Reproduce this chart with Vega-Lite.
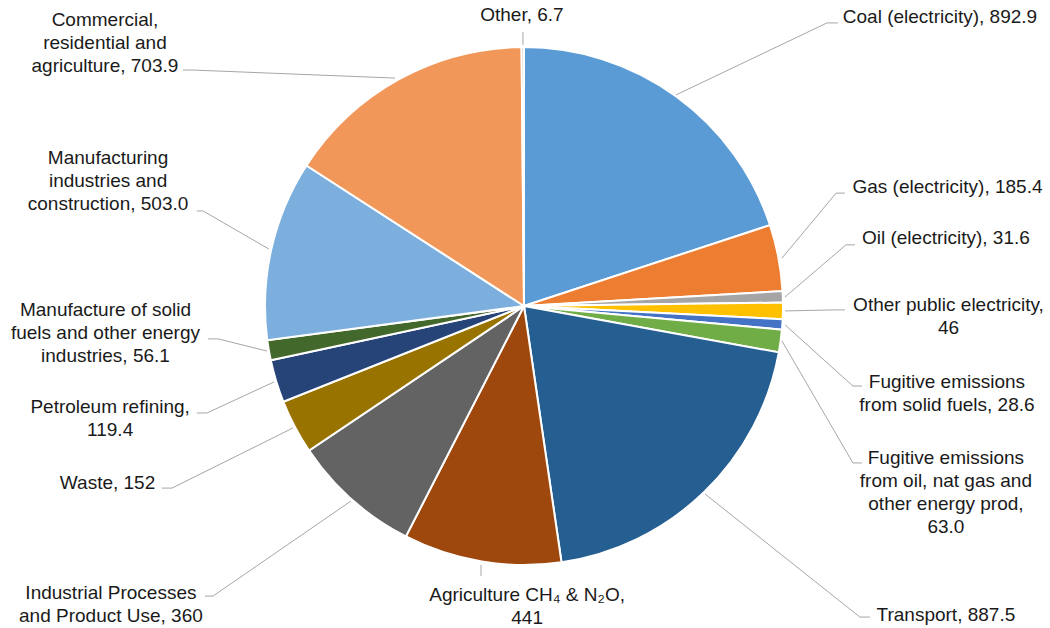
{
  "$schema": "https://vega.github.io/schema/vega-lite/v6.json",
  "width": 1050,
  "height": 628,
  "autosize": {"type": "none"},
  "padding": 0,
  "background": "white",
  "config": {"view": {"stroke": null}},
  "data": {
    "values": [
      {"name": "Coal (electricity)", "value": 892.9, "ord": 1, "label": "Coal (electricity), 892.9", "lx": 160.6, "ly": 111.6, "ex": 58.7, "ey": 81.5, "bx": 117.0, "by": 109.3, "hx": 121.2},
      {"name": "Gas (electricity)", "value": 185.4, "ord": 2, "label": "Gas (electricity), 185.4", "lx": 163.5, "ly": 45.9, "ex": 99.6, "ey": 18.5, "bx": 120.5, "by": 43.6, "hx": 123.9},
      {"name": "Oil (electricity)", "value": 31.6, "ord": 3, "label": "Oil (electricity), 31.6", "lx": 162.9, "ly": 26.3, "ex": 100.8, "ey": 3.5, "bx": 124.3, "by": 23.6, "hx": 127.8},
      {"name": "Other public electricity", "value": 46, "ord": 4, "label": "Other public electricity,\n46", "lx": 163.9, "ly": 0.4, "ex": 100.8, "ey": -1.9, "bx": 120.1, "by": -1.5, "hx": 123.9},
      {"name": "Fugitive emissions from solid fuels", "value": 28.6, "ord": 5, "label": "Fugitive emissions\nfrom solid fuels, 28.6", "lx": 163.3, "ly": -29.3, "ex": 100.8, "ey": -7.3, "bx": 127.0, "by": -30.9, "hx": 130.5},
      {"name": "Fugitive emissions from oil, nat gas and other energy prod", "value": 63.0, "ord": 6, "label": "Fugitive emissions\nfrom oil, nat gas and\nother energy prod,\n63.0", "lx": 162.9, "ly": -58.7, "ex": 99.6, "ey": -13.5, "bx": 127.0, "by": -60.6, "hx": 130.5},
      {"name": "Transport", "value": 887.5, "ord": 7, "label": "Transport, 887.5", "lx": 162.9, "ly": -119.3, "ex": 69.9, "ey": -72.6, "bx": 129.7, "by": -120.1, "hx": 133.6},
      {"name": "Agriculture CH4 & N2O", "value": 441, "ord": 8, "label": "Agriculture CH₄ & N₂O,\n441", "lx": 1.2, "ly": -111.6, "ex": -16.6, "ey": -100.0, "bx": -16.6, "by": -104.2, "hx": -16.6},
      {"name": "Industrial Processes and Product Use", "value": 360, "ord": 9, "label": "Industrial Processes\nand Product Use, 360", "lx": -159.5, "ly": -110.8, "ex": -66.8, "ey": -75.3, "bx": -120.1, "by": -112.0, "hx": -123.2},
      {"name": "Waste", "value": 152, "ord": 10, "label": "Waste, 152", "lx": -160.8, "ly": -68.3, "ex": -89.2, "ey": -47.1, "bx": -135.9, "by": -70.3, "hx": -139.8},
      {"name": "Petroleum refining", "value": 119.4, "ord": 11, "label": "Petroleum refining,\n119.4", "lx": -159.8, "ly": -39.0, "ex": -96.5, "ey": -29.3, "bx": -122.4, "by": -41.3, "hx": -126.3},
      {"name": "Manufacture of solid fuels and other energy industries", "value": 56.1, "ord": 12, "label": "Manufacture of solid\nfuels and other energy\nindustries, 56.1", "lx": -161.6, "ly": -1.5, "ex": -99.2, "ey": -17.4, "bx": -118.1, "by": -12.7, "hx": -122.0},
      {"name": "Manufacturing industries and construction", "value": 503.0, "ord": 13, "label": "Manufacturing\nindustries and\nconstruction, 503.0", "lx": -160.6, "ly": 57.1, "ex": -98.5, "ey": 22.0, "bx": -123.9, "by": 36.7, "hx": -126.3},
      {"name": "Commercial, residential and agriculture", "value": 703.9, "ord": 14, "label": "Commercial,\nresidential and\nagriculture, 703.9", "lx": -161.8, "ly": 110.4, "ex": -49.8, "ey": 88.0, "bx": -127.8, "by": 91.1, "hx": -131.7},
      {"name": "Other", "value": 6.7, "ord": 15, "label": "Other, 6.7", "lx": -0.8, "ly": 112.4, "ex": -0.4, "ey": 100.8, "bx": -0.4, "by": 105.8, "hx": -0.4}
    ]
  },
  "layer": [
    {
      "mark": {"type": "arc", "radius": 259, "stroke": "white", "strokeWidth": 2},
      "encoding": {
        "theta": {"field": "value", "type": "quantitative", "stack": true},
        "order": {"field": "ord", "type": "quantitative"},
        "x": {"datum": 0, "type": "quantitative", "scale": {"domain": [-202.32, 203.09], "nice": false, "zero": false}, "axis": null},
        "y": {"datum": 0, "type": "quantitative", "scale": {"domain": [-124.32, 118.15], "nice": false, "zero": false}, "axis": null},
        "color": {
          "field": "name", "type": "nominal", "legend": null,
          "scale": {
            "domain": ["Coal (electricity)", "Gas (electricity)", "Oil (electricity)", "Other public electricity", "Fugitive emissions from solid fuels", "Fugitive emissions from oil, nat gas and other energy prod", "Transport", "Agriculture CH4 & N2O", "Industrial Processes and Product Use", "Waste", "Petroleum refining", "Manufacture of solid fuels and other energy industries", "Manufacturing industries and construction", "Commercial, residential and agriculture", "Other"],
            "range": ["#5B9BD5", "#ED7D31", "#A5A5A5", "#FFC000", "#4472C4", "#70AD47", "#255E91", "#9E480E", "#636363", "#997300", "#264478", "#43682B", "#7CAFDD", "#F1975A", "#B7B7B7"]
          }
        }
      }
    },
    {
      "mark": {"type": "rule", "color": "#A6A6A6", "strokeWidth": 1},
      "encoding": {
        "x": {"field": "ex", "type": "quantitative"},
        "y": {"field": "ey", "type": "quantitative"},
        "x2": {"field": "bx"},
        "y2": {"field": "by"}
      }
    },
    {
      "mark": {"type": "rule", "color": "#A6A6A6", "strokeWidth": 1},
      "encoding": {
        "x": {"field": "bx", "type": "quantitative"},
        "y": {"field": "by", "type": "quantitative"},
        "x2": {"field": "hx"}
      }
    },
    {
      "mark": {"type": "text", "font": "Liberation Sans", "fontSize": 19, "lineHeight": 23, "lineBreak": "\n", "align": "center", "baseline": "middle", "color": "#1a1a1a"},
      "encoding": {
        "x": {"field": "lx", "type": "quantitative"},
        "y": {"field": "ly", "type": "quantitative"},
        "text": {"field": "label", "type": "nominal"}
      }
    }
  ]
}
